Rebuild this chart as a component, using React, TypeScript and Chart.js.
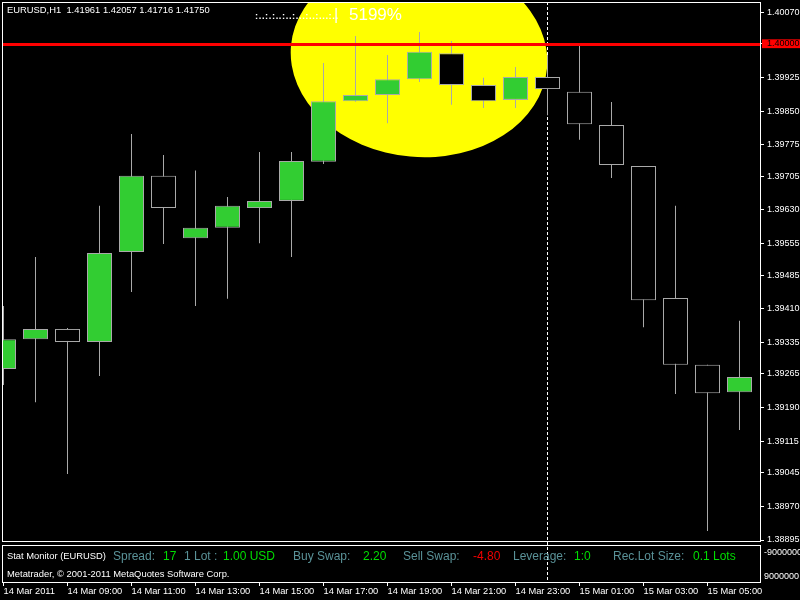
import { useEffect, useRef } from "react";
import { Chart, registerables } from "chart.js";

Chart.register(...registerables);

// ---------- data ----------
const headerText = "EURUSD,H1  1.41961 1.42057 1.41716 1.41750";
const xTickLabels = [
  "14 Mar 2011", "14 Mar 09:00", "14 Mar 11:00", "14 Mar 13:00", "14 Mar 15:00", "14 Mar 17:00",
  "14 Mar 19:00", "14 Mar 21:00", "14 Mar 23:00", "15 Mar 01:00", "15 Mar 03:00", "15 Mar 05:00",
];
const openPrices = [
  1.39276, 1.39342, 1.39365, 1.39336, 1.39536, 1.39706, 1.39567, 1.3959, 1.39634, 1.3965, 1.39737, 1.39872,
  1.39886, 1.39921, 1.39979, 1.39908, 1.39875, 1.39926, 1.39893, 1.39819, 1.39728, 1.39434, 1.39285, 1.39224,
];
const highPrices = [
  1.39416, 1.39525, 1.39367, 1.39639, 1.39799, 1.39752, 1.39718, 1.39659, 1.39759, 1.39759, 1.39957, 1.40017,
  1.39975, 1.40026, 1.40006, 1.39924, 1.39948, 1.39975, 1.39999, 1.3987, 1.39728, 1.39639, 1.39285, 1.39383,
];
const lowPrices = [
  1.3924, 1.39202, 1.39042, 1.3926, 1.39447, 1.39554, 1.39416, 1.39432, 1.39556, 1.39525, 1.39732, 1.39871,
  1.39823, 1.39915, 1.39864, 1.39857, 1.39857, 1.39841, 1.39786, 1.39701, 1.39369, 1.3922, 1.38915, 1.3914,
];
const closePrices = [
  1.39342, 1.39365, 1.39336, 1.39534, 1.39706, 1.39634, 1.3959, 1.39639, 1.3965, 1.39739, 1.39872, 1.39886,
  1.39921, 1.39982, 1.39908, 1.39872, 1.39926, 1.39899, 1.39821, 1.3973, 1.39429, 1.39285, 1.39222, 1.39258,
];
const yTickValues = [
  1.4007, 1.4, 1.39925, 1.3985, 1.39775, 1.39705, 1.3963, 1.39555, 1.39485, 1.3941, 1.39335, 1.39265,
  1.3919, 1.39115, 1.39045, 1.3897, 1.38895,
];
const levelPrice = 1.4;
const separatorIndex = 17;
const profitText = "5199%";
const dotsText = ":..:.:..:..:...:..:...:..";
const barText = "|";
const statTitle = "Stat Monitor (EURUSD)";
const copyrightText = "Metatrader, \u00A9 2001-2011 MetaQuotes Software Corp.";
const statLabels = ["Spread:", "1 Lot :", "Buy Swap:", "Sell Swap:", "Leverage:", "Rec.Lot Size:"];
const statValues = ["17", "1.00 USD", "2.20", "-4.80", "1:0", "0.1 Lots"];
const subAxisLabels = ["-9000000", "9000000"];

// ---------- styles ----------
const FONT = "'Liberation Sans', Arial, sans-serif";
const BULL = "#32CD32";
const BEAR = "#000000";
const OUTLINE = "#A9A9A9";
const TEAL = "#5a9298";
const GREEN = "#00dd00";
const RED = "#ee0000";
const MAIN_BOTTOM = 541;
const SUB_TOP = 545;

const mtPlugin = {
  id: "mtDecor",
  beforeDraw(chart: any) {
    const ctx = chart.ctx;
    ctx.save();
    ctx.fillStyle = "#000";
    ctx.fillRect(0, 0, chart.width, chart.height);
    ctx.restore();
  },
  beforeDatasetsDraw(chart: any) {
    const { ctx, chartArea: a, scales } = chart;
    const x = scales.x;
    // yellow blob (clipped to main window)
    ctx.save();
    ctx.beginPath();
    ctx.rect(a.left, a.top, a.right - a.left, MAIN_BOTTOM - a.top);
    ctx.clip();
    ctx.fillStyle = "#FFFF00";
    ctx.beginPath();
    ctx.ellipse(419, 57, 128.5, 100, (5 * Math.PI) / 180, 0, Math.PI * 2);
    ctx.fill();
    ctx.restore();
    // day separator
    const sx = Math.floor(x.getPixelForValue(separatorIndex)) + 0.5;
    ctx.save();
    ctx.strokeStyle = "#fff";
    ctx.lineWidth = 1;
    ctx.setLineDash([3, 2]);
    ctx.beginPath();
    ctx.moveTo(sx, a.top);
    ctx.lineTo(sx, a.bottom);
    ctx.stroke();
    ctx.restore();
  },
  afterDatasetsDraw(chart: any) {
    const { ctx, chartArea: a, scales } = chart;
    const x = scales.x;
    const y = scales.y;
    ctx.save();
    // level line
    const ly = Math.round(y.getPixelForValue(levelPrice)) + 0.5;
    ctx.strokeStyle = "#FF0000";
    ctx.lineWidth = 3;
    ctx.beginPath();
    ctx.moveTo(a.left, ly);
    ctx.lineTo(a.right + 1, ly);
    ctx.stroke();
    // borders
    ctx.strokeStyle = "#fff";
    ctx.lineWidth = 1;
    ctx.strokeRect(a.left + 0.5, a.top + 0.5, a.right - a.left, MAIN_BOTTOM - a.top);
    ctx.strokeRect(a.left + 0.5, SUB_TOP + 0.5, a.right - a.left, a.bottom - SUB_TOP);
    // x tick marks
    for (const t of x.ticks) {
      const px = Math.floor(x.getPixelForValue(t.value)) + 0.5;
      ctx.beginPath();
      ctx.moveTo(px, a.bottom);
      ctx.lineTo(px, a.bottom + 4);
      ctx.stroke();
    }
    // header
    ctx.fillStyle = "#fff";
    ctx.textBaseline = "middle";
    ctx.textAlign = "left";
    ctx.font = `9.4px ${FONT}`;
    ctx.fillText(headerText, 7, 10.5);
    ctx.textBaseline = "alphabetic";
    ctx.font = `bold 9.3px ${FONT}`;
    (ctx as any).letterSpacing = "0.6px";
    ctx.fillText(dotsText, 255, 19);
    (ctx as any).letterSpacing = "0px";
    ctx.font = `16px ${FONT}`;
    ctx.fillText(barText, 334, 20);
    ctx.font = `17px ${FONT}`;
    ctx.fillText(profitText, 349, 19.5);
    // sub window
    ctx.textBaseline = "middle";
    ctx.font = `9.4px ${FONT}`;
    ctx.fillStyle = "#fff";
    ctx.fillText(statTitle, 7, 556.5);
    ctx.fillText(copyrightText, 7, 574.5);
    const labelX = [113, 184, 293, 403, 513, 613];
    const valueX = [163, 223, 363, 473, 574, 693];
    ctx.font = `12px ${FONT}`;
    statLabels.forEach((s, i) => {
      ctx.fillStyle = TEAL;
      ctx.fillText(s, labelX[i], 556.5);
      ctx.fillStyle = statValues[i].startsWith("-") ? RED : GREEN;
      ctx.fillText(statValues[i], valueX[i], 556.5);
    });
    ctx.font = `9px ${FONT}`;
    ctx.fillStyle = "#fff";
    ctx.fillText(subAxisLabels[0], 764, 552.5);
    ctx.fillText(subAxisLabels[1], 764, 576.5);
    ctx.restore();
  },
};

const isLevel = (v: number) => Math.abs(v - levelPrice) < 1e-9;

const yMax = 1.4007 + 10.3 / 44911;
const yMin = yMax - 580 / 44911;

export default function App() {
  const ref = useRef<HTMLCanvasElement>(null);
  useEffect(() => {
    document.body.style.margin = "0";
    document.body.style.background = "#000";
    const wicks = openPrices.map((_, i) => ({ x: i, y: [lowPrices[i], highPrices[i]] }));
    const bodies = openPrices.map((o, i) => ({ x: i, y: [o, closePrices[i]] }));
    const chart = new Chart(ref.current as HTMLCanvasElement, {
      type: "bar",
      data: {
        datasets: [
          {
            label: "wicks",
            data: wicks as any,
            backgroundColor: OUTLINE,
            borderWidth: 0,
            barThickness: 1,
            grouped: false,
            inflateAmount: 0,
            order: 2,
          } as any,
          {
            label: "bodies",
            data: bodies as any,
            backgroundColor: openPrices.map((o, i) => (closePrices[i] >= o ? BULL : BEAR)),
            borderColor: OUTLINE,
            borderWidth: 1,
            borderSkipped: false,
            barThickness: 25,
            grouped: false,
            inflateAmount: 0,
            order: 1,
          } as any,
        ],
      },
      options: {
        responsive: false,
        devicePixelRatio: 1,
        animation: false,
        events: [],
        layout: { padding: { left: 2, top: 2, right: 0, bottom: 0 }, autoPadding: false } as any,
        plugins: { legend: { display: false }, tooltip: { enabled: false }, title: { display: false } },
        scales: {
          x: {
            type: "linear",
            position: "bottom",
            offset: false,
            min: -1.5 / 32,
            max: -1.5 / 32 + 758 / 32,
            bounds: "data",
            grid: { display: false, drawTicks: false, offset: false },
            border: { display: false },
            afterBuildTicks: (scale: any) => {
              scale.ticks = xTickLabels.map((_, i) => ({ value: i * 2 }));
            },
            afterFit: (scale: any) => {
              scale.height = 18;
              scale.paddingLeft = 0;
              scale.paddingRight = 0;
            },
            ticks: {
              autoSkip: false,
              maxRotation: 0,
              minRotation: 0,
              align: "start",
              padding: 4,
              color: "#fff",
              font: { family: FONT, size: 9.3 },
              callback: (_v: any, i: number) => xTickLabels[i] ?? "",
            },
          } as any,
          y: {
            type: "linear",
            position: "right",
            min: yMin,
            max: yMax,
            bounds: "data",
            grid: { drawOnChartArea: false, color: "#fff", tickLength: 4 },
            border: { display: false },
            afterBuildTicks: (scale: any) => {
              scale.ticks = yTickValues.map((v) => ({ value: v }));
            },
            afterFit: (scale: any) => {
              scale.width = 40;
              scale.paddingTop = 0;
              scale.paddingBottom = 0;
            },
            ticks: {
              autoSkip: false,
              padding: 3,
              crossAlign: "near",
              font: { family: FONT, size: 9 },
              color: (c: any) => (c.tick && isLevel(c.tick.value) ? "#000" : "#fff"),
              showLabelBackdrop: (c: any) => !!(c.tick && isLevel(c.tick.value)),
              backdropColor: "#FF0000",
              backdropPadding: { top: -1, bottom: -1, left: 5, right: 8 },
              callback: (v: any) => Number(v).toFixed(5),
            },
          } as any,
        },
      },
      plugins: [mtPlugin],
    });
    return () => chart.destroy();
  }, []);
  return (
    <div style={{ position: "fixed", left: 0, top: 0, width: 800, height: 600, background: "#000" }}>
      <canvas ref={ref} width={800} height={600} style={{ display: "block", width: 800, height: 600 }} />
    </div>
  );
}
